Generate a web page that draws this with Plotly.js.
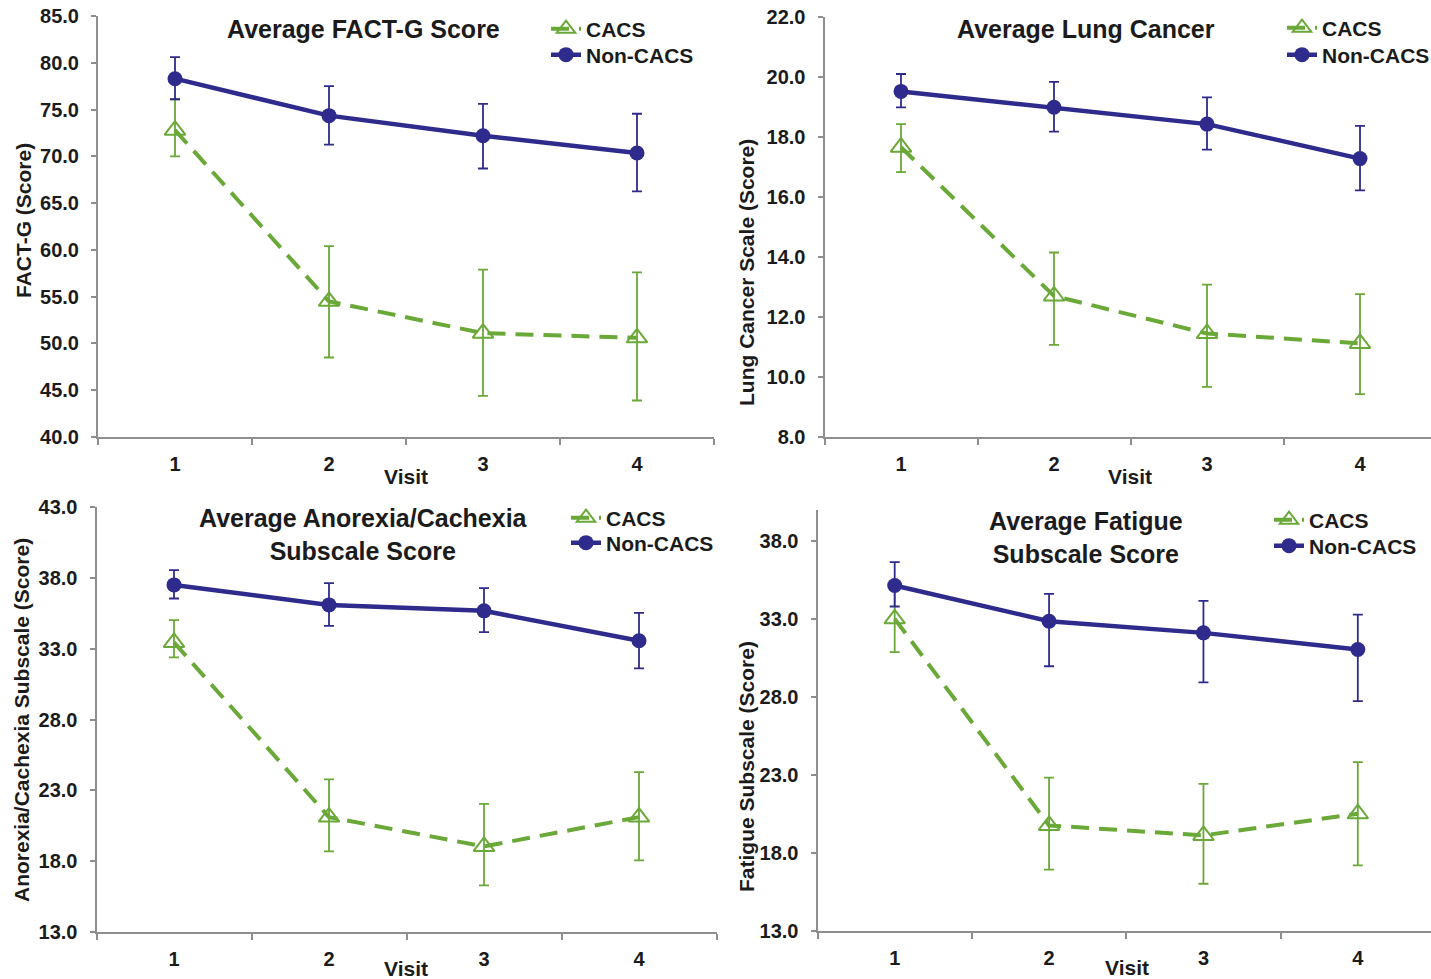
<!DOCTYPE html>
<html>
<head>
<meta charset="utf-8">
<script src="https://cdn.plot.ly/plotly-3.0.1.min.js"></script>
<style>html,body{margin:0;padding:0;background:#fff;}#chart{width:1431px;height:979px;}</style>
</head>
<body>
<div id="chart"></div>
<script>
// ---- data ----
const visits = ['1', '2', '3', '4'];
const seriesNames = ['CACS', 'Non-CACS'];

const factgCacs = [72.8, 54.5, 51.1, 50.6];
const factgCacsErrUp = [3.3, 5.9, 6.8, 7.0];
const factgCacsErrDown = [2.8, 6.0, 6.7, 6.7];
const factgNon = [78.3, 74.35, 72.2, 70.35];
const factgNonErrUp = [2.3, 3.15, 3.4, 4.2];
const factgNonErrDown = [2.2, 3.1, 3.5, 4.1];

const lungCacs = [17.66, 12.7, 11.45, 11.12];
const lungCacsErrUp = [0.77, 1.45, 1.63, 1.64];
const lungCacsErrDown = [0.83, 1.63, 1.78, 1.69];
const lungNon = [19.52, 18.99, 18.43, 17.28];
const lungNonErrUp = [0.58, 0.85, 0.89, 1.09];
const lungNonErrDown = [0.53, 0.81, 0.85, 1.06];

const anorexiaCacs = [33.44, 21.11, 19.04, 21.11];
const anorexiaCacsErrUp = [1.57, 2.67, 3.01, 3.17];
const anorexiaCacsErrDown = [1.06, 2.42, 2.75, 3.06];
const anorexiaNon = [37.5, 36.09, 35.67, 33.56];
const anorexiaNonErrUp = [1.04, 1.53, 1.6, 1.97];
const anorexiaNonErrDown = [0.96, 1.48, 1.5, 1.95];

const fatigueCacs = [33.02, 19.77, 19.13, 20.52];
const fatigueCacsErrUp = [2.1, 3.06, 3.31, 3.31];
const fatigueCacsErrDown = [2.14, 2.84, 3.1, 3.31];
const fatigueNon = [35.16, 32.87, 32.12, 31.05];
const fatigueNonErrUp = [1.5, 1.75, 2.05, 2.24];
const fatigueNonErrDown = [1.35, 2.89, 3.18, 3.31];

const panelTitles = ['Average FACT-G Score', 'Average Lung Cancer',
  'Average Anorexia/Cachexia<br>Subscale Score', 'Average Fatigue<br>Subscale Score'];
const yTitles = ['FACT-G (Score)', 'Lung Cancer Scale (Score)',
  'Anorexia/Cachexia Subscale (Score)', 'Fatigue Subscale (Score)'];
const xTitle = 'Visit';

// ---- styles ----
const GREEN = '#6aa838';
const BLUE = '#2e2b8c';
const AXIS = '#8e8e8e';
const FONT = 'Liberation Sans, Arial, sans-serif';
const TXT = '#1b1b1b';

function axisIds(n) {
  return {xaxis: n === 1 ? 'x' : 'x' + n, yaxis: n === 1 ? 'y' : 'y' + n};
}
function cacsTrace(y, up, down, n) {
  return Object.assign({
    x: visits, y: y, type: 'scatter', mode: 'lines+markers', name: seriesNames[0],
    legend: n === 1 ? 'legend' : 'legend' + (2 * n - 1),
    line: {color: GREEN, width: 4, dash: '18px,10px'},
    marker: {symbol: 'triangle-up-open', size: 18, color: GREEN, line: {width: 2, color: GREEN}},
    error_y: {type: 'data', array: up, arrayminus: down, symmetric: false, color: GREEN, thickness: 1.8, width: 5},
    hoverinfo: 'x+y+name'
  }, axisIds(n));
}
function nonTrace(y, up, down, n) {
  return Object.assign({
    x: visits, y: y, type: 'scatter', mode: 'lines+markers', name: seriesNames[1],
    legend: 'legend' + (2 * n),
    line: {color: BLUE, width: 4.5},
    marker: {symbol: 'circle', size: 15, color: BLUE},
    error_y: {type: 'data', array: up, arrayminus: down, symmetric: false, color: BLUE, thickness: 1.8, width: 5},
    hoverinfo: 'x+y+name'
  }, axisIds(n));
}

const traces = [
  cacsTrace(factgCacs, factgCacsErrUp, factgCacsErrDown, 1),
  nonTrace(factgNon, factgNonErrUp, factgNonErrDown, 1),
  cacsTrace(lungCacs, lungCacsErrUp, lungCacsErrDown, 2),
  nonTrace(lungNon, lungNonErrUp, lungNonErrDown, 2),
  cacsTrace(anorexiaCacs, anorexiaCacsErrUp, anorexiaCacsErrDown, 3),
  nonTrace(anorexiaNon, anorexiaNonErrUp, anorexiaNonErrDown, 3),
  cacsTrace(fatigueCacs, fatigueCacsErrUp, fatigueCacsErrDown, 4),
  nonTrace(fatigueNon, fatigueNonErrUp, fatigueNonErrDown, 4)
];

const W = 1431, H = 979;
const px = v => v / W;
const py = v => 1 - v / H;

function xAxis(x0, x1, rangeEnd, anchor) {
  return {
    domain: [px(x0), Math.min(1, px(x1))], anchor: anchor, type: 'category',
    range: [-0.5, rangeEnd], tickson: 'boundaries',
    ticks: 'outside', ticklen: 6, tickwidth: 1.5, tickcolor: AXIS,
    showline: true, linecolor: AXIS, linewidth: 2,
    showgrid: false, zeroline: false, fixedrange: true,
    tickfont: {family: FONT, size: 20, color: TXT, weight: 'bold'},
    ticklabelstandoff: 8
  };
}
function yAxis(yTop, yBot, range, tick0, dtick, anchor) {
  return {
    domain: [py(yBot), py(yTop)], anchor: anchor, range: range,
    tick0: tick0, dtick: dtick, tickformat: '.1f',
    ticks: 'outside', ticklen: 5, tickwidth: 1.5, tickcolor: AXIS,
    showline: true, linecolor: AXIS, linewidth: 2,
    showgrid: false, zeroline: false, fixedrange: true,
    tickfont: {family: FONT, size: 20, color: TXT, weight: 'bold'},
    ticklabelstandoff: 8
  };
}

// one legend per entry, placed by text-start x and row-centre y
function legendAt(textX, rowY) {
  return {
    x: px(textX - 41), y: py(rowY - 20.5), xanchor: 'left', yanchor: 'top',
    bgcolor: 'rgba(0,0,0,0)', borderwidth: 0, itemwidth: 30,
    itemclick: false, itemdoubleclick: false,
    font: {family: FONT, size: 21, color: TXT, weight: 'bold'}
  };
}

function titleAnn(text, x, y) {
  return {text: text, xref: 'paper', yref: 'paper', x: px(x), y: py(y),
    xanchor: 'center', yanchor: 'middle', showarrow: false,
    font: {family: FONT, size: 25, color: TXT, weight: 'bold'}};
}
function yTitleAnn(text, x, y) {
  return {text: text, xref: 'paper', yref: 'paper', x: px(x), y: py(y),
    xanchor: 'center', yanchor: 'middle', showarrow: false, textangle: -90,
    font: {family: FONT, size: 21, color: TXT, weight: 'bold'}};
}
function xTitleAnn(x, y) {
  return {text: xTitle, xref: 'paper', yref: 'paper', x: px(x), y: py(y),
    xanchor: 'center', yanchor: 'middle', showarrow: false,
    font: {family: FONT, size: 21, color: TXT, weight: 'bold'}};
}

const layout = {
  width: W, height: H,
  margin: {l: 0, r: 0, t: 0, b: 0, pad: 0, autoexpand: false},
  paper_bgcolor: '#ffffff', plot_bgcolor: '#ffffff',
  showlegend: true,
  xaxis: xAxis(98, 714, 3.5, 'y'),
  yaxis: yAxis(16, 437, [40, 85], 40, 5, 'x'),
  xaxis2: xAxis(824.5, 1436.5, 3.464, 'y2'),
  yaxis2: yAxis(17, 437, [8, 22], 8, 2, 'x2'),
  xaxis3: xAxis(96.5, 716.5, 3.5, 'y3'),
  yaxis3: yAxis(507, 932, [13, 43], 13, 5, 'x3'),
  xaxis4: xAxis(817.5, 1435, 3.474, 'y4'),
  yaxis4: yAxis(510, 931, [13, 40], 13, 5, 'x4'),
  legend: legendAt(587, 29),
  legend2: legendAt(587, 55),
  legend3: legendAt(1323, 28),
  legend4: legendAt(1323, 55),
  legend5: legendAt(607, 518),
  legend6: legendAt(607, 543),
  legend7: legendAt(1310, 520),
  legend8: legendAt(1310, 546),
  annotations: [
    titleAnn(panelTitles[0], 363, 29),
    titleAnn(panelTitles[1], 1086, 29),
    titleAnn(panelTitles[2], 363, 534),
    titleAnn(panelTitles[3], 1086, 537),
    yTitleAnn(yTitles[0], 23, 221),
    yTitleAnn(yTitles[1], 746, 272),
    yTitleAnn(yTitles[2], 21, 720),
    yTitleAnn(yTitles[3], 746, 766),
    xTitleAnn(406, 476),
    xTitleAnn(1130, 476),
    xTitleAnn(406, 968),
    xTitleAnn(1127, 967)
  ]
};

Plotly.newPlot('chart', traces, layout, {displayModeBar: false, responsive: false});
</script>
</body>
</html>
